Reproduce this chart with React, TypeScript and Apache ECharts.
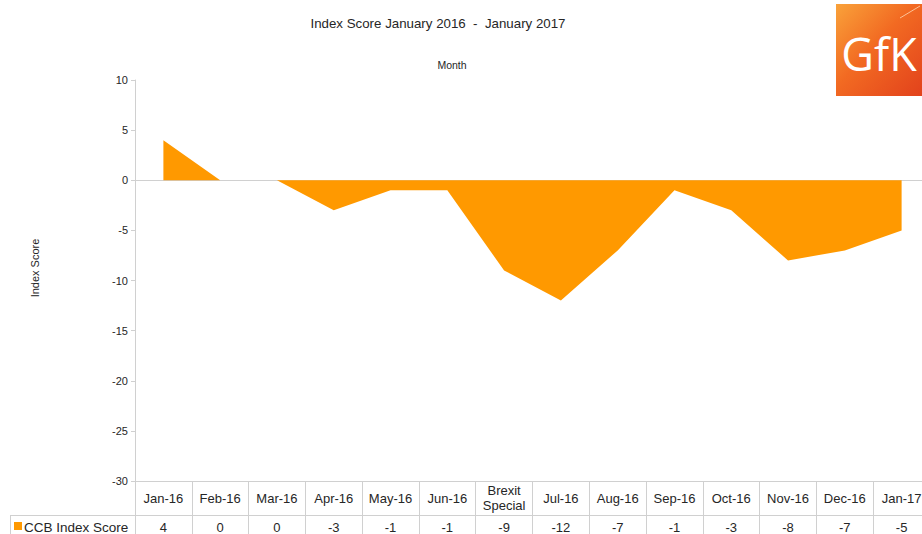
import React, { useEffect, useRef } from "react";
import * as echarts from "echarts";

const categories = ["Jan-16", "Feb-16", "Mar-16", "Apr-16", "May-16", "Jun-16", "Brexit\nSpecial", "Jul-16", "Aug-16", "Sep-16", "Oct-16", "Nov-16", "Dec-16", "Jan-17"];
const ccbIndexScore = [4, 0, 0, -3, -1, -1, -9, -12, -7, -1, -3, -8, -7, -5];
const seriesName = "CCB Index Score";
const yTicks = { min: -30, max: 10, interval: 5 };

const TEXT = "#262626";
const GRID_LINE = "#d0d0d0";
const ORANGE = "#FF9900";
const FONT = "Liberation Sans, Arial, sans-serif";

export default function App() {
  const ref = useRef<HTMLDivElement>(null);
  useEffect(() => {
    if (!ref.current) return;
    const chart = echarts.init(ref.current, null, { renderer: "svg" });
    chart.setOption({
      animation: false,
      backgroundColor: "#ffffff",
      textStyle: { fontFamily: FONT, color: TEXT },
      title: [
        {
          text: "Index Score January 2016  -  January 2017",
          left: 433,
          top: 12,
          textAlign: "center",
          textStyle: { fontSize: 13.3, fontWeight: "normal", color: TEXT, fontFamily: FONT },
        },
        {
          text: "Month",
          left: 447,
          top: 54,
          textAlign: "center",
          textStyle: { fontSize: 10.5, fontWeight: "normal", color: TEXT, fontFamily: FONT },
        },
      ],
      grid: { left: 135, top: 80, width: 795, height: 401, containLabel: false, outerBoundsMode: "none" },
      xAxis: [
        {
          type: "category",
          data: categories,
          boundaryGap: true,
          position: "bottom",
          axisLine: { show: true, onZero: false, lineStyle: { color: GRID_LINE, width: 1 } },
          axisTick: { show: true, interval: 0, length: 60, lineStyle: { color: GRID_LINE, width: 1 } },
          axisLabel: {
            interval: 0,
            margin: 17,
            verticalAlign: "middle",
            fontSize: 13,
            lineHeight: 15,
            color: TEXT,
            fontFamily: FONT,
          },
          splitLine: { show: false },
        },
        {
          type: "category",
          data: categories,
          boundaryGap: true,
          position: "bottom",
          offset: 34,
          axisLine: { show: true, onZero: false, lineStyle: { color: GRID_LINE, width: 1 } },
          axisTick: { show: false },
          axisLabel: {
            interval: 0,
            margin: 12,
            verticalAlign: "middle",
            fontSize: 13,
            color: TEXT,
            fontFamily: FONT,
            formatter: (_v: string, i: number) => String(ccbIndexScore[i]),
          },
          splitLine: { show: false },
        },
      ],
      yAxis: {
        type: "value",
        min: yTicks.min,
        max: yTicks.max,
        interval: yTicks.interval,
        axisLine: { show: true, lineStyle: { color: GRID_LINE, width: 1 } },
        axisTick: { show: true, length: 4, lineStyle: { color: GRID_LINE } },
        axisLabel: { fontSize: 11, color: TEXT, margin: 7, fontFamily: FONT },
        splitLine: { show: false },
      },
      series: [
        {
          name: seriesName,
          type: "line",
          data: ccbIndexScore,
          symbol: "none",
          lineStyle: { width: 0, color: ORANGE },
          itemStyle: { color: ORANGE },
          areaStyle: { color: ORANGE, opacity: 1, origin: 0 },
          silent: true,
          z: 2,
          markLine: {
            silent: true,
            symbol: "none",
            label: { show: false },
            lineStyle: { color: GRID_LINE, type: "solid", width: 1 },
            data: [{ yAxis: 0 }],
            z: 1,
          },
        },
      ],
      graphic: [
        {
          type: "text",
          x: 35,
          y: 268,
          rotation: Math.PI / 2,
          style: { text: "Index Score", fontSize: 11, fill: TEXT, align: "center", verticalAlign: "middle", fontFamily: FONT },
        },
        { type: "line", shape: { x1: 10, y1: 515.5, x2: 135, y2: 515.5 }, style: { stroke: GRID_LINE, lineWidth: 1 } },
        { type: "line", shape: { x1: 10.5, y1: 515, x2: 10.5, y2: 534 }, style: { stroke: GRID_LINE, lineWidth: 1 } },
        { type: "rect", shape: { x: 14, y: 522, width: 8, height: 8 }, style: { fill: ORANGE } },
        {
          type: "text",
          x: 24,
          y: 527,
          style: { text: seriesName, fontSize: 13.5, fill: TEXT, verticalAlign: "middle", fontFamily: FONT },
        },
        {
          type: "rect",
          shape: { x: 836, y: 4, width: 86, height: 92 },
          style: {
            fill: new echarts.graphic.LinearGradient(0, 0, 1, 1, [
              { offset: 0, color: "#F9A23A" },
              { offset: 0.45, color: "#F26A22" },
              { offset: 1, color: "#E2421C" },
            ]),
          },
        },
        { type: "line", shape: { x1: 900, y1: 18, x2: 920, y2: 6 }, style: { stroke: "rgba(255,230,200,0.7)", lineWidth: 1 } },
        {
          type: "text",
          x: 879,
          y: 53,
          style: {
            text: "GfK",
            fontSize: 45,
            fill: "#ffffff",
            align: "center",
            verticalAlign: "middle",
            fontFamily: "Open Sans, Noto Sans, sans-serif",
          },
        },
      ],
    });
    return () => chart.dispose();
  }, []);
  return <div ref={ref} style={{ position: "absolute", left: 0, top: 0, width: 922, height: 534 }} />;
}
